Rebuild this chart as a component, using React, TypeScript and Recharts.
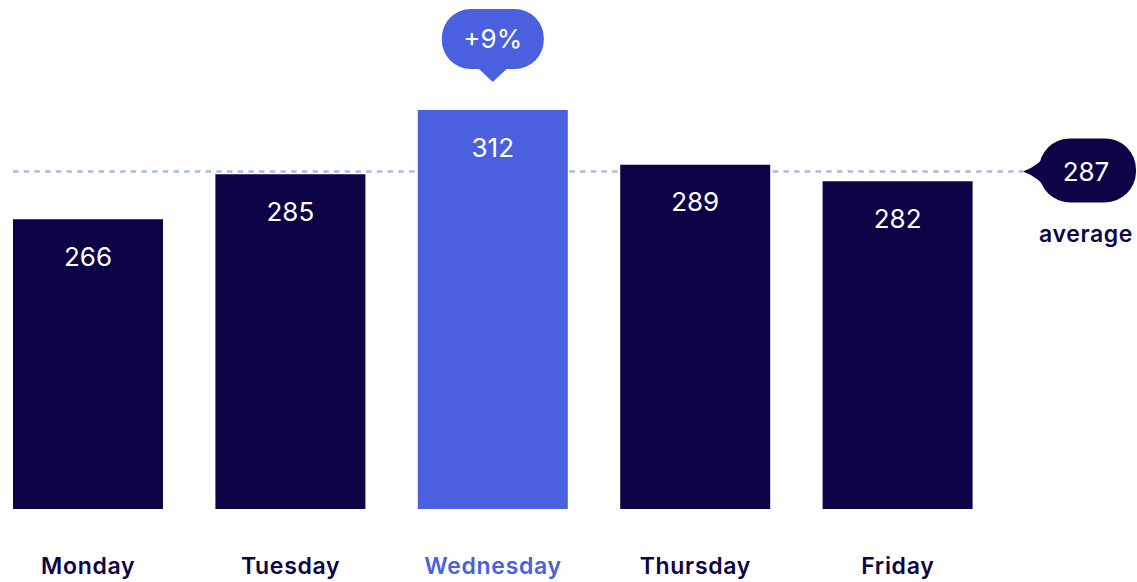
import { BarChart, Bar, XAxis, YAxis, Cell, LabelList, ReferenceLine } from 'recharts';

const days = ['Monday', 'Tuesday', 'Wednesday', 'Thursday', 'Friday'];
const visits = [266, 285, 312, 289, 282];
const highlightDay = 'Wednesday';
const changeLabel = '+9%';
const averageValue = 287;
const averageLabel = 'average';

const navy = '#0c0447';
const blue = '#4a60df';
const dashColor = '#a9bbdf';
const font = 'Inter, "Noto Sans", sans-serif';

const data = days.map((day, i) => ({ day, value: visits[i] }));

// white number inside each bar, plus the change bubble over the highlighted one
const ValueLabel = (props: any) => {
  const { x, y, width, value, index } = props;
  const cx = x + width / 2;
  const isHighlight = days[index] === highlightDay;
  return (
    <g>
      <text x={cx} y={y + 37} fill="#fff" fontSize={26} fontFamily={font} textAnchor="middle" dominantBaseline="central">
        {value}
      </text>
      {isHighlight && (
        <g>
          <rect x={cx - 51} y={y - 101} width={102} height={60} rx={29} fill={blue} />
          <path d={`M${cx - 16},${y - 43} L${cx + 16},${y - 43} L${cx},${y - 28} Z`} fill={blue} />
          <text x={cx} y={y - 72} fill="#fff" fontSize={26} fontFamily={font} textAnchor="middle" dominantBaseline="central">
            {changeLabel}
          </text>
        </g>
      )}
    </g>
  );
};

const AverageLine = (props: any) => {
  const y = props.y1 + 2;
  const tipX = 1023;
  return (
    <g>
      <line x1={13} y1={y} x2={tipX} y2={y} stroke={dashColor} strokeWidth={2.5} strokeDasharray="5.5 5.2" />
      <rect x={1039} y={y - 33} width={97} height={64} rx={31} fill={navy} />
      <path
        d={`M${tipX},${y} Q${1040},${y - 6} ${1050},${y - 22} L${1066},${y - 22} L${1066},${y + 22} L${1050},${y + 22} Q${1040},${y + 6} ${tipX},${y} Z`}
        fill={navy}
      />
      <text x={1086} y={y} fill="#fff" fontSize={26} fontFamily={font} textAnchor="middle" dominantBaseline="central">
        {averageValue}
      </text>
      <text x={1086} y={y + 63} fill={navy} fontSize={23} fontWeight={600} letterSpacing={0.6} fontFamily={font} textAnchor="middle" dominantBaseline="central">
        {averageLabel}
      </text>
    </g>
  );
};

const DayTick = (props: any) => {
  const { x, y, payload } = props;
  const color = payload.value === highlightDay ? blue : navy;
  return (
    <text x={x} y={y + 49} fill={color} fontSize={23} fontWeight={600} letterSpacing={0.7} fontFamily={font} textAnchor="middle" dominantBaseline="central">
      {payload.value}
    </text>
  );
};

export default function App() {
  return (
    <div style={{ position: 'absolute', left: 0, top: 0, width: 1137, height: 582 }}>
      <BarChart width={1137} height={582} data={data} margin={{ top: 91, right: 138, bottom: 0, left: -13 }}>
        <XAxis dataKey="day" height={73} axisLine={false} tickLine={false} tick={<DayTick />} interval={0} />
        <YAxis hide domain={[144, 320]} allowDataOverflow />
        <ReferenceLine y={averageValue} shape={<AverageLine />} ifOverflow="visible" zIndex={100} />
        <Bar dataKey="value" barSize={150} isAnimationActive={false}>
          {data.map((d) => (
            <Cell key={d.day} fill={d.day === highlightDay ? blue : navy} />
          ))}
          <LabelList dataKey="value" content={<ValueLabel />} />
        </Bar>
      </BarChart>
    </div>
  );
}
